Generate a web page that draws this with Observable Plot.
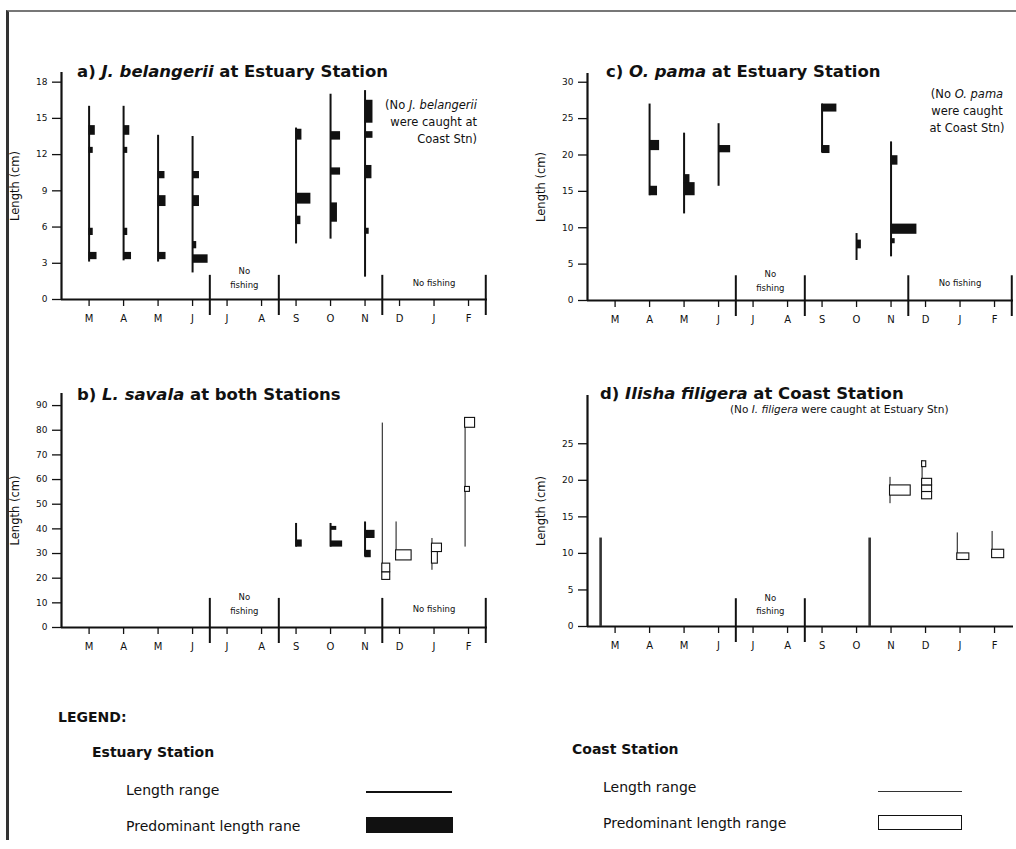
<!DOCTYPE html>
<html><head><meta charset="utf-8">
<script src="https://cdn.jsdelivr.net/npm/d3@7"></script>
<script src="https://cdn.jsdelivr.net/npm/@observablehq/plot@0.6"></script>
<style>
html,body{margin:0;padding:0;background:#fff;overflow:hidden;}
#fig{position:relative;width:1016px;height:849px;overflow:hidden;font-family:"DejaVu Sans",sans-serif;color:#111;background:#fff;}
.abs{position:absolute;white-space:nowrap;}
.title{font-weight:bold;font-size:15px;line-height:16px;transform:scaleX(1.1);transform-origin:left center;}
.note{font-size:11.5px;line-height:17px;}
.leg{font-size:14px;line-height:16px;}
.legb{font-size:14px;line-height:16px;font-weight:bold;}
.pan{position:absolute;}
</style></head>
<body><div id="fig"></div>
<script>
// ---------- data ----------
const months = ["M","A","M","J","J","A","S","O","N","D","J","F"];
const monthIdx = d3.range(12);
const breaksAll = [3.5, 5.5, 8.5, 11.5];   // no-fishing period boundaries (month units)
const breaksD = [3.5, 5.5];

const ticksA = [0,3,6,9,12,15,18];
const ticksB = [0,10,20,30,40,50,60,70,80,90];
const ticksC = [0,5,10,15,20,25,30];
const ticksD = [0,5,10,15,20,25];

// [month position, min length, max length]  (cm)
const aEstRanges = [[0,3.1,16.0],[1,3.2,16.0],[2,3.1,13.6],[3,2.2,13.5],[6,4.6,14.2],[7,5.0,17.0],[8,1.85,17.3]];
// [month position, low, high, relative share]
const aEstBlocks = [
  [0,13.6,14.4,1.8],[0,12.1,12.6,1.2],[0,5.3,5.9,1.2],[0,3.3,3.9,2.3],
  [1,13.6,14.4,1.8],[1,12.1,12.6,1.2],[1,5.3,5.9,1.2],[1,3.3,3.9,2.3],
  [2,10.0,10.6,2.0],[2,7.7,8.6,2.3],[2,3.3,3.9,2.3],
  [3,10.0,10.6,2.0],[3,7.7,8.6,2.0],[3,4.2,4.8,1.2],[3,3.0,3.7,4.5],
  [6,13.2,14.1,1.7],[6,7.9,8.8,4.3],[6,6.2,6.9,1.4],
  [7,13.2,13.9,2.9],[7,10.3,10.9,2.9],[7,6.4,8.0,2.0],
  [8,14.6,16.5,2.3],[8,13.35,13.9,2.3],[8,10.0,11.1,2.0],[8,5.4,5.9,1.2]
];

const bEstRanges = [[6,32.6,42.2],[7,32.6,42.2],[8,28.6,42.8]];
const bEstBlocks = [[6,32.6,35.5,1.8],[7,39.4,41.0,1.8],[7,32.6,35.1,3.5],[8,36.1,39.4,2.9],[8,28.3,31.3,1.8]];
const bCoastRanges = [[8.5,19.1,82.9],[8.9,27.2,42.8],[9.94,23.2,36.1],[10.9,32.6,84.8]];
const bCoastBlocks = [[8.5,19.3,22.4,2.3],[8.5,22.4,25.9,2.3],[8.9,27.2,31.3,4.5],[9.94,30.6,34.0,2.9],[9.94,25.9,30.6,1.7],[10.9,81.0,85.0,2.9],[10.9,55.0,57.0,1.4]];

const cEstRanges = [[1,14.4,27.0],[2,11.9,23.0],[3,15.7,24.3],[6,20.3,27.0],[7,5.5,9.2],[8,6.0,21.8]];
const cEstBlocks = [
  [1,20.6,22.0,2.9],[1,14.4,15.7,2.3],
  [2,16.0,17.3,1.7],[2,14.4,16.2,3.2],
  [3,20.3,21.3,3.5],
  [6,25.9,27.0,4.3],[6,20.2,21.3,2.3],
  [7,7.1,8.3,1.4],
  [8,18.6,19.9,2.0],[8,9.1,10.5,7.5],[8,7.8,8.5,1.2]
];

const dMarkers = [[-0.42,0,12.1],[7.38,0,12.1]];
const dCoastRanges = [[7.97,16.8,20.4],[8.9,17.4,22.7],[9.92,9.1,12.8],[10.93,9.35,13.0]];
const dCoastBlocks = [[7.97,17.9,19.3,6.0],[8.9,17.4,18.4,2.9],[8.9,18.4,19.3,2.9],[8.9,19.3,20.2,2.9],[8.9,21.8,22.6,1.2],[9.92,9.1,10.0,3.5],[10.93,9.35,10.5,3.5]];

// ---------- helpers ----------
const R = a => a.map(([pos,lo,hi]) => ({pos,lo,hi}));
const B = a => a.map(([pos,lo,hi,w]) => ({pos,lo,hi,w}));
const xDom = [-0.8, 11.55];
const INK = "#111";

function panel(o){
  const k = (o.height - o.mt - o.mb) / o.ymax;
  const below = 16 / k;
  const marks = [
    Plot.ruleX(o.breaks, {y1: -below, y2: o.breakTop, stroke: INK, strokeWidth: 2}),
    Plot.ruleY([0], {stroke: INK, strokeWidth: 2.2}),
    Plot.ruleX([xDom[0]], {stroke: INK, strokeWidth: 2.2}),
    Plot.axisY(o.yticks, {tickSize: 9, tickPadding: 5, fontSize: 9, label: null, stroke: INK, strokeWidth: 1.3, tickFormat: d => d}),
    Plot.axisX(monthIdx, {tickSize: 7, tickPadding: 8, fontSize: 10, label: null, stroke: INK, strokeWidth: 1.3, tickFormat: i => months[i]}),
    Plot.text(["Length (cm)"], {frameAnchor: "left", textAnchor: "middle", rotate: -90, dx: -46, fontSize: 11.5}),
    Plot.text(o.noFish, {x: "x", y: "y", text: "t", fontSize: 8.5, lineHeight: 1.6, fill: INK})
  ];
  if (o.markers) marks.push(Plot.ruleX(R(o.markers), {x: "pos", y1: "lo", y2: "hi", stroke: "#333", strokeWidth: 2.6}));
  if (o.est) {
    marks.push(Plot.ruleX(R(o.est), {x: "pos", y1: "lo", y2: "hi", stroke: INK, strokeWidth: 2}));
    marks.push(Plot.rect(B(o.estB), {x1: "pos", x2: d => d.pos + d.w / 10, y1: "lo", y2: "hi", fill: INK}));
  }
  if (o.coast) {
    marks.push(Plot.ruleX(R(o.coast), {x: "pos", y1: "lo", y2: "hi", stroke: INK, strokeWidth: 1}));
    marks.push(Plot.rect(B(o.coastB), {x1: "pos", x2: d => d.pos + d.w / 10, y1: "lo", y2: "hi", fill: "white", stroke: INK, strokeWidth: 1.1}));
  }
  const svg = Plot.plot({
    width: o.width, height: o.height,
    marginLeft: 61, marginRight: o.width - 61 - 426, marginTop: o.mt, marginBottom: o.mb,
    x: {domain: xDom},
    y: {domain: [0, o.ymax]},
    style: {fontFamily: "DejaVu Sans, sans-serif", color: INK, background: "transparent", overflow: "visible"},
    marks
  });
  svg.classList.add("pan");
  svg.style.left = o.left + "px";
  svg.style.top = o.top + "px";
  return svg;
}

const fig = document.getElementById("fig");
function add(html, cls, css){ const d = document.createElement("div"); d.className = "abs " + cls; d.innerHTML = html; Object.assign(d.style, css); fig.appendChild(d); return d; }

// frame of the original figure
add("", "", {left: "6px", top: "10px", width: "1020px", height: "828px", borderLeft: "3px solid #333", borderTop: "2px solid #777"});

fig.appendChild(panel({left: 0, top: 60, width: 500, height: 280, mt: 12, mb: 41, ymax: 18.8, yticks: ticksA,
  breaks: breaksAll, breakTop: 2.0, est: aEstRanges, estB: aEstBlocks,
  noFish: [{x: 4.5, y: 1.9, t: "No\nfishing"}, {x: 10, y: 1.5, t: "No fishing"}]}));
fig.appendChild(panel({left: 526, top: 60, width: 490, height: 280, mt: 13, mb: 40, ymax: 31.2, yticks: ticksC,
  breaks: breaksAll, breakTop: 3.4, est: cEstRanges, estB: cEstBlocks,
  noFish: [{x: 4.5, y: 2.9, t: "No\nfishing"}, {x: 10, y: 2.6, t: "No fishing"}]}));
fig.appendChild(panel({left: 0, top: 383, width: 500, height: 280, mt: 10, mb: 36, ymax: 94.9, yticks: ticksB,
  breaks: breaksAll, breakTop: 11.8, est: bEstRanges, estB: bEstBlocks, coast: bCoastRanges, coastB: bCoastBlocks,
  noFish: [{x: 4.5, y: 10.1, t: "No\nfishing"}, {x: 10, y: 8.2, t: "No fishing"}]}));
fig.appendChild(panel({left: 526, top: 383, width: 490, height: 280, mt: 12, mb: 37, ymax: 31.6, yticks: ticksD,
  breaks: breaksD, breakTop: 3.8, coast: dCoastRanges, coastB: dCoastBlocks, markers: dMarkers,
  noFish: [{x: 4.5, y: 3.2, t: "No\nfishing"}]}));

// titles
add("a) <i>J. belangerii</i> at Estuary Station", "title", {left: "77px", top: "64px"});
add("c) <i>O. pama</i> at Estuary Station", "title", {left: "606px", top: "64px"});
add("b) <i>L. savala</i> at both Stations", "title", {left: "77px", top: "387px"});
add("d) <i>Ilisha filigera</i> at Coast Station", "title", {left: "600px", top: "386px"});

// notes
add("(No <i>J. belangerii</i><br>were caught at<br>Coast Stn)", "note", {right: (1016 - 477) + "px", top: "97px", textAlign: "right"});
add("(No <i>O. pama</i><br>were caught<br>at Coast Stn)", "note", {left: "887px", width: "160px", top: "86px", textAlign: "center"});
add("(No <i>I. filigera</i> were caught at Estuary Stn)", "note", {left: "730px", top: "403px", fontSize: "10.5px", lineHeight: "12px"});

// legend
add("LEGEND:", "legb", {left: "58px", top: "709px"});
add("Estuary Station", "legb", {left: "92px", top: "744px"});
add("Length range", "leg", {left: "126px", top: "782px"});
add("", "", {left: "366px", top: "791px", width: "86px", height: "2px", background: INK});
add("Predominant length rane", "leg", {left: "126px", top: "818px"});
add("", "", {left: "366px", top: "817px", width: "87px", height: "16px", background: INK});
add("Coast Station", "legb", {left: "572px", top: "741px"});
add("Length range", "leg", {left: "603px", top: "779px"});
add("", "", {left: "878px", top: "791px", width: "84px", height: "1px", background: "#333"});
add("Predominant length range", "leg", {left: "603px", top: "815px"});
add("", "", {left: "878px", top: "815px", width: "82px", height: "13px", border: "1.5px solid " + INK, background: "#fff"});
</script>
</body></html>
